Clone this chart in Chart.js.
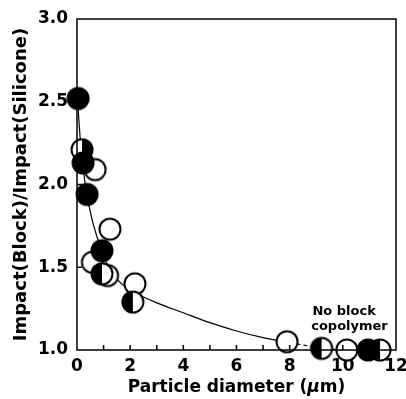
<!DOCTYPE html>
<html>
<head>
<meta charset="utf-8">
<script src="https://cdn.jsdelivr.net/npm/chart.js@4"></script>
<style>
    html, body { margin: 0; padding: 0; background: #fff; }
    #wrap { width: 406px; height: 399px; }
</style>
</head>
<body>
<div id="wrap"><canvas id="ChImpacto"></canvas></div>
<script>
// data
const Llenos = [[0.04, 2.52], [0.23, 2.13], [0.38, 1.94], [0.94, 1.60], [10.95, 1.0]];
const Vacios = [[0.68, 2.09], [1.24, 1.73], [0.58, 1.53], [1.15, 1.45], [2.18, 1.40], [7.9, 1.05], [10.15, 1.0]];
const MitadIzq = [[0.94, 1.46], [2.1, 1.29], [9.2, 1.01], [11.4, 1.0]];
const MitadDer = [[0.19, 2.21]];
const Curva = [[0.0, 2.56], [0.1, 2.32], [0.2, 2.14], [0.35, 1.96], [0.55, 1.8], [0.8, 1.66], [1.1, 1.53], [1.5, 1.43], [2.0, 1.36], [2.5, 1.32], [3.0, 1.285], [4.0, 1.225], [5.0, 1.165], [6.0, 1.115], [7.0, 1.075], [8.0, 1.045]];
const Tramo = [[8.0, 1.045], [9.2, 1.01], [10.15, 1.0], [11.4, 1.0]];
const TicksX = [0, 2, 4, 6, 8, 10, 12];
const TicksY = [1.0, 1.5, 2.0, 2.5, 3.0];
const Nota = ["No block", "copolymer"];
const TituloX = ["Particle diameter (", "µ", "m)"];

const FUENTE = "'DejaVu Sans', sans-serif";

const Puntos = (arr) => arr.map((p) => ({ x: p[0], y: p[1] }));

const Marcador = (tipo) => {
    const r = 10.5;
    const c = document.createElement('canvas');
    c.width = 26;
    c.height = 26;
    const g = c.getContext('2d');
    g.beginPath();
    g.arc(13, 13, r, 0, Math.PI * 2);
    g.fillStyle = tipo == 'lleno' ? '#000' : '#fff';
    g.fill();
    if (tipo == 'izq' || tipo == 'der') {
        g.beginPath();
        if (tipo == 'izq') {
            g.arc(13, 13, r, Math.PI / 2, Math.PI * 1.5);
        } else {
            g.arc(13, 13, r, -Math.PI / 2, Math.PI / 2);
        }
        g.closePath();
        g.fillStyle = '#000';
        g.fill();
    }
    g.beginPath();
    g.arc(13, 13, r, 0, Math.PI * 2);
    g.lineWidth = 2;
    g.strokeStyle = '#000';
    g.stroke();
    return c;
};

// frame, inward ticks, x title with italic mu, and the note
const Marco = {
    id: 'marco',
    afterDraw: (chart) => {
        const ctx = chart.ctx;
        const a = chart.chartArea;
        const sx = chart.scales.x;
        const sy = chart.scales.y;
        ctx.save();
        ctx.setLineDash([]);
        ctx.globalAlpha = 1;
        ctx.strokeStyle = '#000';
        ctx.lineWidth = 1.5;
        ctx.beginPath();
        ctx.rect(a.left, a.top, a.right - a.left, a.bottom - a.top);
        for (let v = sx.min; v <= sx.max; v++) {
            const px = sx.getPixelForValue(v);
            ctx.moveTo(px, a.bottom);
            ctx.lineTo(px, a.bottom - 5);
        }
        TicksY.forEach((v) => {
            const py = sy.getPixelForValue(v);
            ctx.moveTo(a.left, py);
            ctx.lineTo(a.left + 5, py);
        });
        ctx.stroke();

        ctx.fillStyle = '#000';
        ctx.textBaseline = 'middle';
        ctx.textAlign = 'center';
        ctx.font = 'bold 13px ' + FUENTE;
        ctx.fillText(Nota[0], sx.getPixelForValue(10.05), sy.getPixelForValue(1.23));
        ctx.fillText(Nota[1], sx.getPixelForValue(10.25), sy.getPixelForValue(1.14));

        const f1 = 'bold 17px ' + FUENTE;
        const f2 = 'italic bold 17px ' + FUENTE;
        ctx.font = f1;
        const w0 = ctx.measureText(TituloX[0]).width;
        const w2 = ctx.measureText(TituloX[2]).width;
        ctx.font = f2;
        const w1 = ctx.measureText(TituloX[1]).width;
        let x0 = (a.left + a.right) / 2 - (w0 + w1 + w2) / 2;
        const yT = 388;
        ctx.textAlign = 'left';
        ctx.font = f1;
        ctx.fillText(TituloX[0], x0, yT);
        ctx.font = f2;
        ctx.fillText(TituloX[1], x0 + w0, yT);
        ctx.font = f1;
        ctx.fillText(TituloX[2], x0 + w0 + w1, yT);
        ctx.restore();
    }
};

const InitGrafica = () => {
    const ctx = document.getElementById('ChImpacto');
    new Chart(ctx, {
        type: 'scatter',
        data: {
            datasets: [
                {
                    type: 'line',
                    data: Puntos(Curva),
                    borderColor: '#000',
                    borderWidth: 1.2,
                    pointRadius: 0,
                    cubicInterpolationMode: 'monotone',
                    fill: false,
                    order: 10
                },
                {
                    type: 'line',
                    data: Puntos(Tramo),
                    borderColor: '#000',
                    borderWidth: 1.2,
                    borderDash: [4, 3],
                    pointRadius: 0,
                    fill: false,
                    order: 10
                },
                { data: Puntos(Vacios), pointStyle: Marcador('vacio'), order: 4 },
                { data: Puntos(MitadDer), pointStyle: Marcador('der'), order: 3 },
                { data: Puntos(Llenos), pointStyle: Marcador('lleno'), order: 2 },
                { data: Puntos(MitadIzq), pointStyle: Marcador('izq'), order: 1 }
            ]
        },
        options: {
            responsive: true,
            maintainAspectRatio: false,
            animation: false,
            clip: false,
            layout: { padding: { top: 19, right: 10, left: 0, bottom: 0 } },
            plugins: { legend: { display: false }, tooltip: { enabled: false } },
            scales: {
                x: {
                    type: 'linear',
                    min: 0,
                    max: 12,
                    grid: { display: false, drawTicks: false },
                    border: { display: false },
                    afterBuildTicks: (s) => { s.ticks = TicksX.map((v) => ({ value: v })); },
                    afterFit: (s) => {
                        s.height = 49;
                        s.paddingLeft = 0;
                        s.paddingRight = 0;
                    },
                    ticks: {
                        color: '#000',
                        padding: 6,
                        maxRotation: 0,
                        font: { family: FUENTE, size: 17, weight: 'bold' },
                        callback: (v) => v
                    }
                },
                y: {
                    type: 'linear',
                    min: 1,
                    max: 3,
                    grid: { display: false, drawTicks: false },
                    border: { display: false },
                    afterBuildTicks: (s) => { s.ticks = TicksY.map((v) => ({ value: v })); },
                    afterFit: (s) => {
                        s.width = 77;
                        s.paddingTop = 0;
                        s.paddingBottom = 0;
                    },
                    ticks: {
                        color: '#000',
                        padding: 9,
                        font: { family: FUENTE, size: 17, weight: 'bold' },
                        callback: (v) => v.toFixed(1)
                    },
                    title: {
                        display: true,
                        text: 'Impact(Block)/Impact(Silicone)',
                        color: '#000',
                        padding: { top: 11, bottom: 0 },
                        font: { family: FUENTE, size: 18, weight: 'bold' }
                    }
                }
            }
        },
        plugins: [Marco]
    });
};

InitGrafica();
</script>
</body>
</html>
